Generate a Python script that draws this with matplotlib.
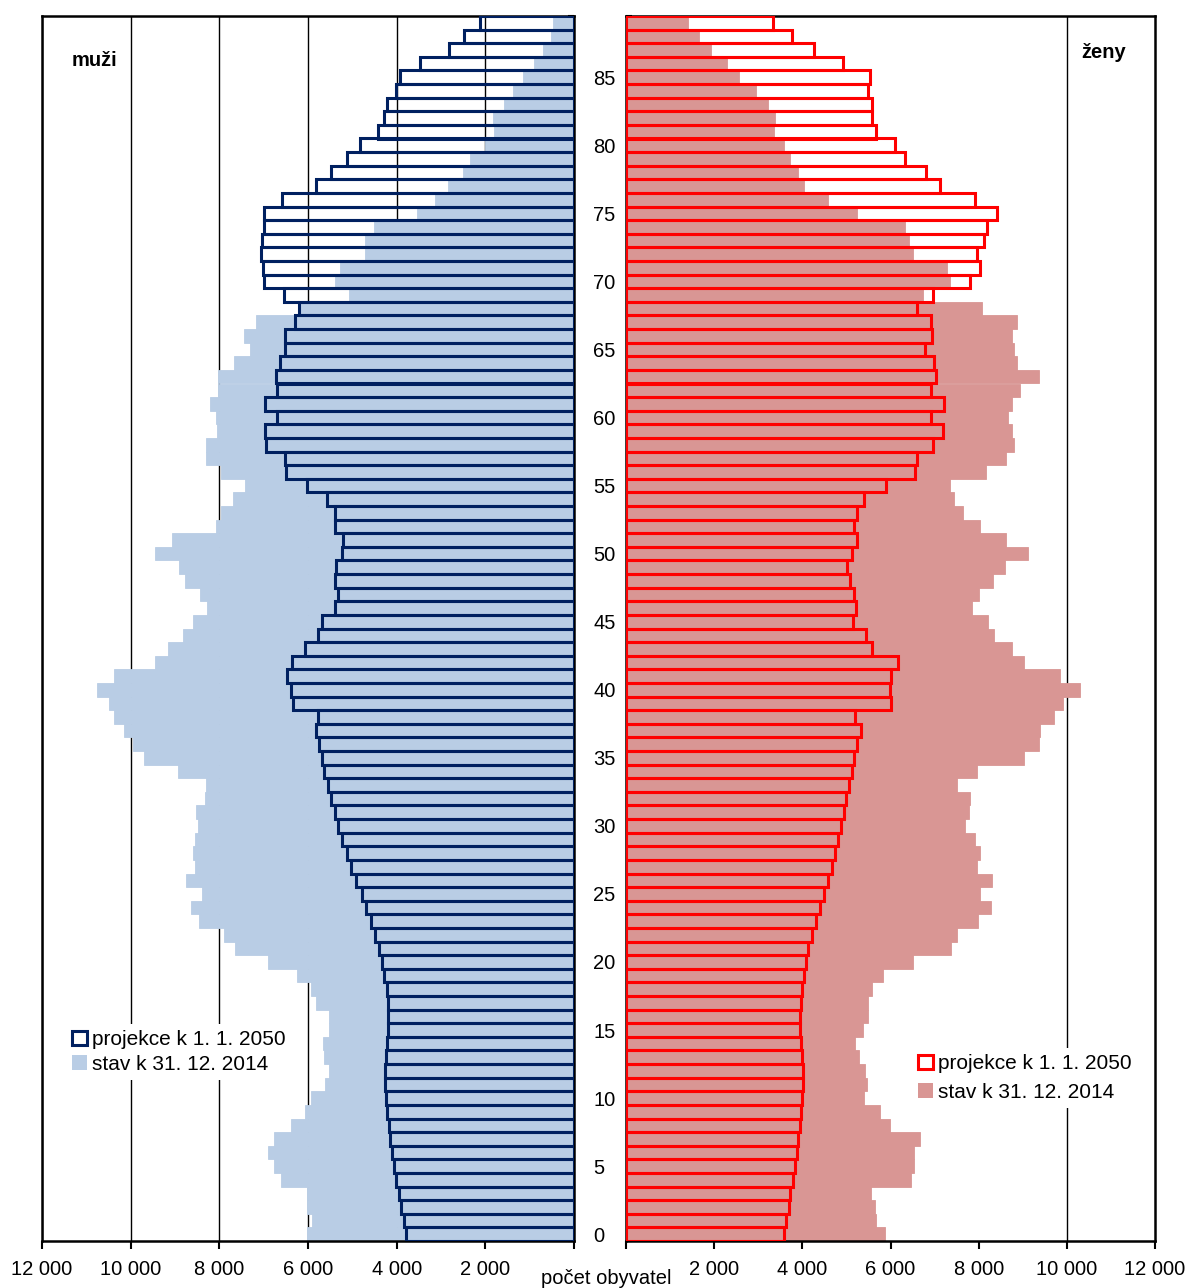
import numpy as np
import matplotlib
matplotlib.use('Agg')
import matplotlib.pyplot as plt
from matplotlib.patches import Patch

plt.rcParams['font.family'] = ['Liberation Sans', 'DejaVu Sans']

# věk 0 .. 89
ages = np.arange(90)

# muži, stav k 31. 12. 2014
men_2014 = [6030, 5920, 6020, 6020, 6610, 6770, 6900, 6770, 6390, 6060,
            5940, 5610, 5530, 5640, 5660, 5530, 5530, 5820, 5930, 6240,
            6910, 7650, 7890, 8450, 8640, 8390, 8750, 8540, 8600, 8540,
            8470, 8520, 8320, 8310, 8930, 9700, 9950, 10150, 10370, 10500,
            10760, 10370, 9450, 9160, 8820, 8600, 8270, 8430, 8780, 8920,
            9440, 9060, 8080, 7970, 7690, 7410, 7970, 8290, 8310, 8050,
            8070, 8200, 8020, 8020, 7680, 7300, 7440, 7170, 6180, 5080,
            5400, 5270, 4710, 4720, 4520, 3540, 3130, 2840, 2500, 2350,
            2010, 1810, 1820, 1570, 1370, 1140, 910, 690, 510, 480]

# muži, projekce k 1. 1. 2050
men_2050 = [3780, 3840, 3900, 3950, 4010, 4050, 4100, 4150, 4180, 4220,
            4240, 4270, 4260, 4250, 4210, 4190, 4190, 4200, 4220, 4280,
            4330, 4400, 4480, 4580, 4690, 4790, 4910, 5030, 5130, 5230,
            5320, 5390, 5470, 5550, 5630, 5690, 5760, 5810, 5780, 6340,
            6390, 6480, 6370, 6060, 5780, 5690, 5390, 5320, 5390, 5360,
            5230, 5200, 5380, 5400, 5570, 6020, 6500, 6530, 6940, 6980,
            6710, 6980, 6710, 6730, 6630, 6520, 6520, 6300, 6200, 6550,
            6990, 7010, 7050, 7030, 6990, 7000, 6590, 5830, 5480, 5130,
            4820, 4430, 4290, 4210, 4010, 3930, 3480, 2810, 2490, 2110]

# ženy, stav k 31. 12. 2014
women_2014 = [5880, 5670, 5640, 5550, 6460, 6540, 6540, 6680, 5980, 5770,
              5410, 5460, 5420, 5280, 5200, 5380, 5500, 5480, 5580, 5820,
              6510, 7380, 7510, 7980, 8270, 8020, 8300, 7960, 8020, 7920,
              7680, 7770, 7800, 7510, 7970, 9020, 9360, 9390, 9720, 9910,
              10310, 9850, 9020, 8750, 8340, 8220, 7850, 8010, 8320, 8600,
              9130, 8630, 8020, 7650, 7430, 7340, 8170, 8630, 8810, 8760,
              8660, 8750, 8940, 9360, 8860, 8800, 8750, 8870, 8070, 6730,
              7360, 7280, 6500, 6420, 6340, 5230, 4590, 4030, 3900, 3730,
              3580, 3350, 3370, 3230, 2950, 2570, 2280, 1930, 1650, 1400]

# ženy, projekce k 1. 1. 2050
women_2050 = [3590, 3640, 3690, 3730, 3790, 3840, 3880, 3910, 3950, 3980,
              4000, 4020, 4020, 4000, 3980, 3950, 3950, 3980, 4000, 4040,
              4080, 4130, 4220, 4300, 4410, 4500, 4590, 4670, 4750, 4820,
              4880, 4940, 4980, 5050, 5120, 5170, 5250, 5340, 5200, 6000,
              5990, 6020, 6160, 5580, 5440, 5160, 5220, 5180, 5080, 5020,
              5130, 5230, 5180, 5250, 5400, 5900, 6560, 6590, 6960, 7200,
              6930, 7210, 6930, 7030, 6980, 6790, 6940, 6930, 6610, 6970,
              7810, 8020, 7970, 8130, 8190, 8410, 7920, 7130, 6810, 6330,
              6110, 5660, 5590, 5570, 5480, 5540, 4920, 4270, 3770, 3340]

x_ticks = [0, 2000, 4000, 6000, 8000, 10000, 12000]
x_labels = ['', '2 000', '4 000', '6 000', '8 000', '10 000', '12 000']
age_ticks = list(range(0, 90, 5))

label_proj = 'projekce k 1. 1. 2050'
label_stav = 'stav k 31. 12. 2014'

navy = '#002060'
light_blue = '#B9CDE5'
red = '#FF0000'
pink = '#D99694'

W, H = 1191, 1288
fig = plt.figure(figsize=(W / 100, H / 100), dpi=100)
bottom = 1 - 1241 / H
height = (1241 - 16) / H
ax_m = fig.add_axes([42 / W, bottom, (574 - 42) / W, height])
ax_z = fig.add_axes([626 / W, bottom, (1155 - 626) / W, height])

# muži
ax_m.set_axisbelow(True)
ax_m.barh(ages, men_2014, height=1.0, color=light_blue, edgecolor=light_blue,
          linewidth=0.6, zorder=2)
ax_m.barh(ages, men_2050, height=1.0, facecolor='none', edgecolor=navy,
          linewidth=2.2, zorder=3)
ax_m.set_xlim(12000, 0)
ax_m.xaxis.grid(True, color='black', linewidth=1.0)
ax_m.yaxis.tick_right()

# ženy
ax_z.set_axisbelow(True)
ax_z.barh(ages, women_2014, height=1.0, color=pink, edgecolor=pink,
          linewidth=0.6, zorder=2)
ax_z.barh(ages, women_2050, height=1.0, facecolor='none', edgecolor=red,
          linewidth=2.2, zorder=3)
ax_z.set_xlim(0, 12000)
ax_z.axvline(10000, color='black', linewidth=1.0, zorder=1)

for ax in (ax_m, ax_z):
    ax.set_ylim(-0.5, 89.5)
    ax.set_xticks(x_ticks)
    ax.set_xticklabels(x_labels, fontsize=14.5)
    ax.tick_params(axis='x', direction='out', length=6, width=1.5, pad=8)
    ax.set_yticks(np.arange(-0.5, 90, 1), minor=True)
    ax.tick_params(axis='y', which='minor', direction='in', length=4,
                   width=1.5, color='black')
    for s in ax.spines.values():
        s.set_linewidth(1.8)
        s.set_color('black')

ax_m.set_yticks(age_ticks)
ax_m.set_yticklabels([str(a) for a in age_ticks], fontsize=14.5)
ax_m.tick_params(axis='y', which='major', length=0, pad=14)
ax_z.set_yticks([])

fig.text(94 / W, 1 - 61 / H, 'muži', fontsize=14.5, fontweight='bold',
         ha='center', va='center')
fig.text(1104 / W, 1 - 52 / H, 'ženy', fontsize=14.5, fontweight='bold',
         ha='center', va='center')
fig.text(606 / W, 1 - 1278 / H, 'počet obyvatel', fontsize=14.5,
         ha='center', va='center')

leg_m = [Patch(facecolor='white', edgecolor=navy, linewidth=2.2),
         Patch(facecolor=light_blue, edgecolor='none')]
leg_z = [Patch(facecolor='white', edgecolor=red, linewidth=2.2),
         Patch(facecolor=pink, edgecolor='none')]

l1 = ax_m.legend(leg_m, [label_proj, label_stav], loc='center left',
                 bbox_to_anchor=(66 / W, 1 - 1052 / H),
                 bbox_transform=fig.transFigure, fontsize=15,
                 handlelength=0.7, handleheight=0.7, handletextpad=0.25,
                 labelspacing=0.25, borderpad=0.3, borderaxespad=0,
                 frameon=True, fancybox=False, framealpha=1,
                 facecolor='white', edgecolor='none')
l1.set_zorder(5)
l2 = ax_z.legend(leg_z, [label_proj, label_stav], loc='center left',
                 bbox_to_anchor=(912 / W, 1 - 1078 / H),
                 bbox_transform=fig.transFigure, fontsize=15,
                 handlelength=0.7, handleheight=0.7, handletextpad=0.25,
                 labelspacing=0.45, borderpad=0.3, borderaxespad=0,
                 frameon=True, fancybox=False, framealpha=1,
                 facecolor='white', edgecolor='none')
l2.set_zorder(5)

fig.savefig('out.png', dpi=100)
